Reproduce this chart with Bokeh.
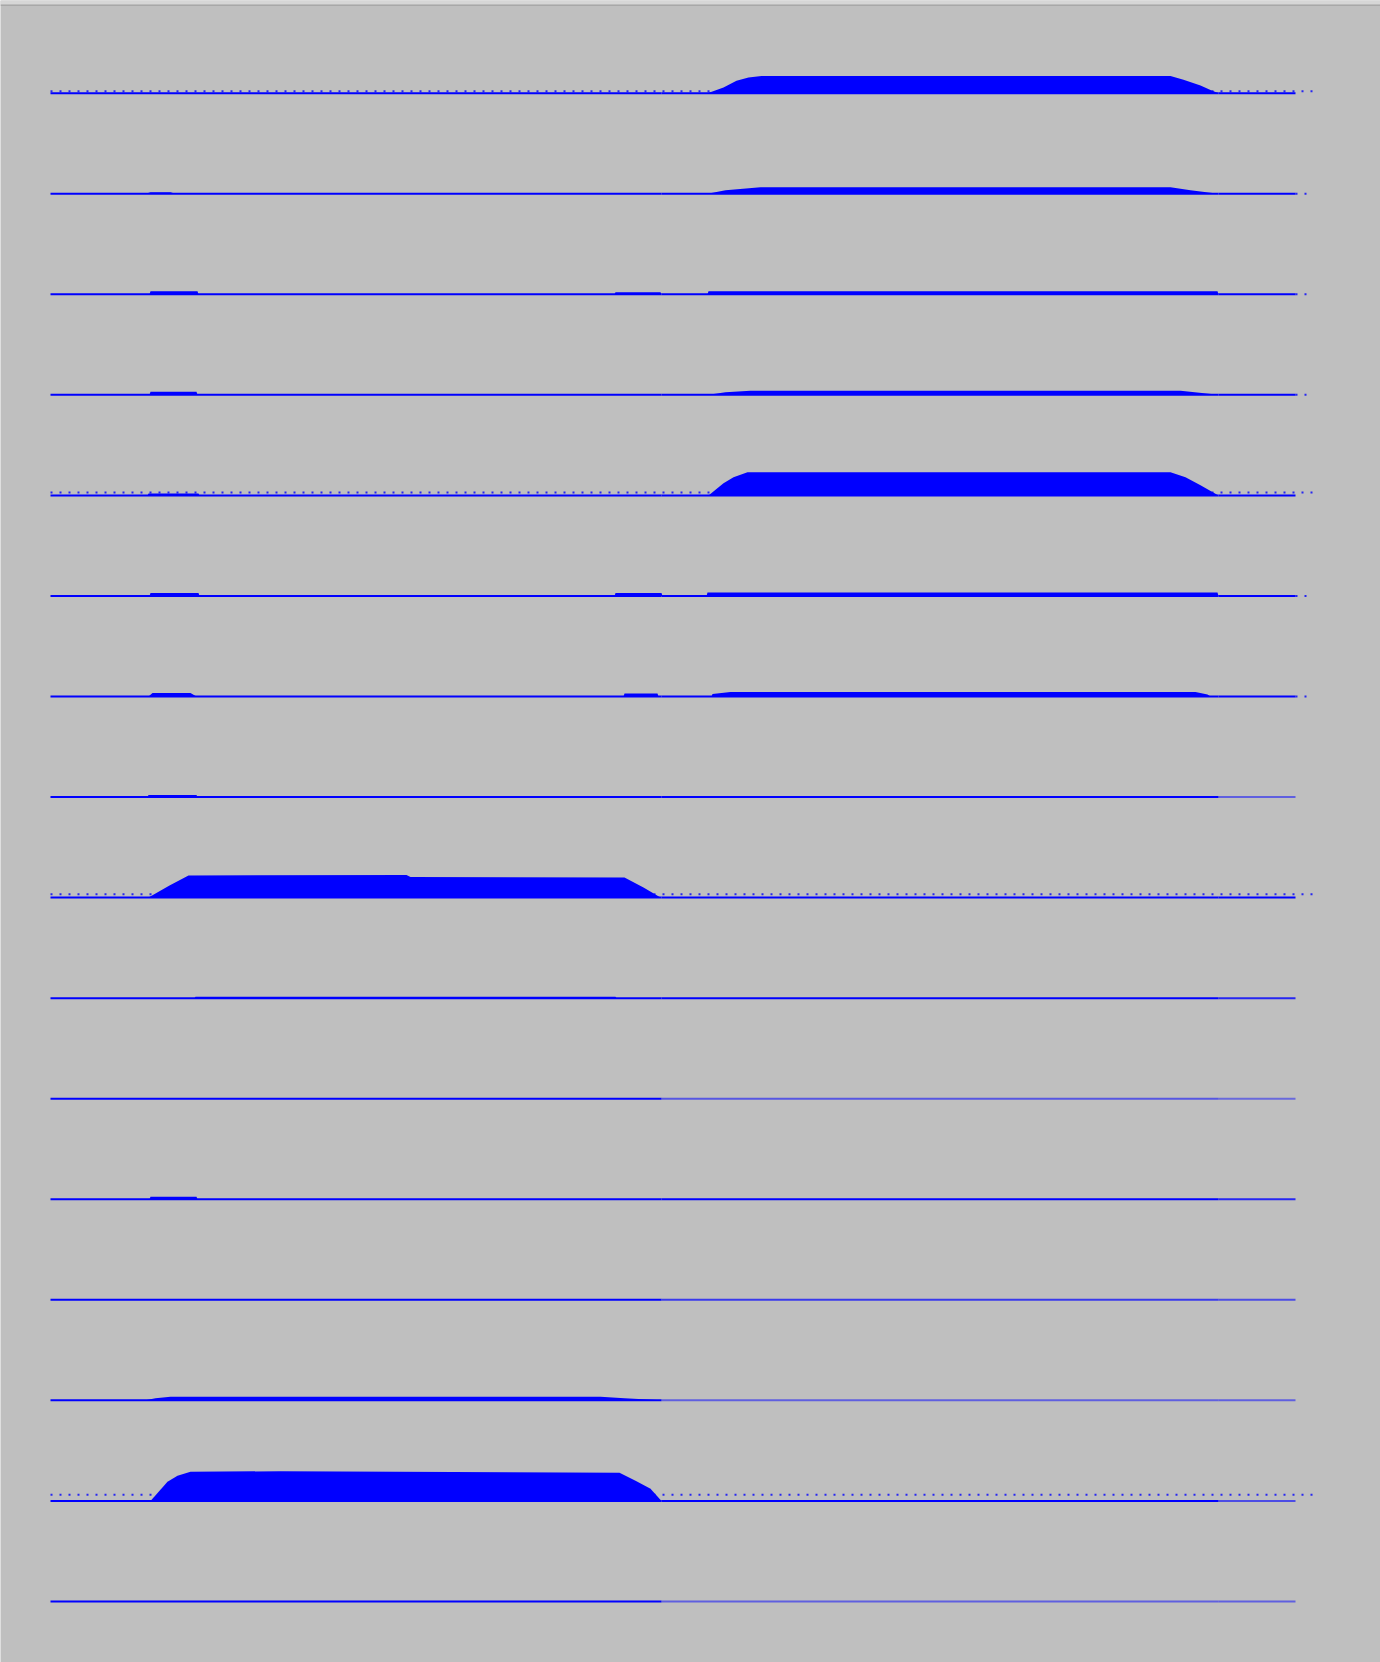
import numpy as np
from bokeh.plotting import figure
from bokeh.models import Range1d, Span, BoxAnnotation
from bokeh.embed import file_html
from bokeh.resources import INLINE

# ---- data: 16 stacked channels, time in seconds, amplitude envelope (µV-like units)
ROW_STEP = 100.0
T_START, T_END, T_DOTS_END = 0.0, 12.45, 12.63
SEG_EDGES = [0.0, 6.11, 11.68, 12.45]

ch01_t = [6.57, 6.73, 6.86, 6.98, 7.11, 11.20, 11.33, 11.50, 11.60, 11.68]
ch01_a = [0, 5.7, 12.3, 15.7, 17, 17, 13.3, 7.7, 3.3, 0]
ch02_t = [0.95, 1.00, 1.20, 1.25, 6.57, 6.75, 7.10, 11.20, 11.40, 11.68]
ch02_a = [0, 1.5, 1.5, 0, 0, 3.5, 6.5, 6.5, 3.5, 0]
ch03_t = [0.99, 1.00, 1.47, 1.48, 5.64, 5.65, 6.10, 6.11, 6.57, 6.58, 11.67, 11.68]
ch03_a = [0, 3, 3, 0, 0, 2, 2, 0, 0, 3, 3, 0]
ch04_t = [0.99, 1.00, 1.46, 1.47, 6.58, 6.75, 7.00, 11.30, 11.68]
ch04_a = [0, 3, 3, 0, 0, 2.5, 4, 4, 0]
ch05_t = [0.97, 0.98, 1.48, 1.49, 6.58, 6.73, 6.83, 6.97, 11.20, 11.35, 11.50, 11.68]
ch05_a = [0, 2, 2, 0, 0, 12, 18, 23, 23, 18, 10, 0]
ch06_t = [0.99, 1.00, 1.48, 1.49, 5.64, 5.65, 6.11, 6.12, 6.56, 6.57, 11.67, 11.68]
ch06_a = [0, 3, 3, 0, 0, 3, 3, 0, 0, 3.5, 3.5, 0]
ch07_t = [0.98, 1.02, 1.40, 1.46, 5.73, 5.74, 6.07, 6.08, 6.61, 6.62, 6.80, 11.45, 11.57, 11.60]
ch07_a = [0, 3.5, 3.5, 0, 0, 3, 3, 0, 0, 2.5, 4.5, 4.5, 2, 0]
ch08_t = [0.97, 0.98, 1.46, 1.47]
ch08_a = [0, 2, 2, 0]
ch09_t = [0.98, 1.19, 1.38, 3.56, 3.60, 5.74, 5.93, 6.10]
ch09_a = [0, 12, 22, 22.5, 20.5, 20, 10, 0]
ch10_t = [1.44, 1.45, 5.65, 5.66]
ch10_a = [0, 1.5, 1.5, 0]
ch11_t = [0.0, 0.01]
ch11_a = [0, 0]
ch12_t = [0.99, 1.00, 1.46, 1.47]
ch12_a = [0, 2.5, 2.5, 0]
ch13_t = [0.0, 0.01]
ch13_a = [0, 0]
ch14_t = [0.95, 1.05, 1.20, 5.50, 5.74, 6.11]
ch14_a = [0, 2, 3.5, 3.5, 2, 0]
ch15_t = [1.00, 1.17, 1.27, 1.40, 2.30, 5.69, 5.85, 6.00, 6.11]
ch15_a = [0, 19, 25, 29, 29.5, 28, 20, 12, 0]
ch16_t = [0.0, 0.01]
ch16_a = [0, 0]

rows_t = [ch01_t, ch02_t, ch03_t, ch04_t, ch05_t, ch06_t, ch07_t, ch08_t,
          ch09_t, ch10_t, ch11_t, ch12_t, ch13_t, ch14_t, ch15_t, ch16_t]
rows_a = [ch01_a, ch02_a, ch03_a, ch04_a, ch05_a, ch06_a, ch07_a, ch08_a,
          ch09_a, ch10_a, ch11_a, ch12_a, ch13_a, ch14_a, ch15_a, ch16_a]

# baseline strength per segment (block 1, block 2, tail)
base_alpha_1 = [1, 1, 1, 1, 1, 1, 1, 1, 1, 1, 1, 1, 1, 1, 1, 1]
base_alpha_2 = [1, 1, 1, 1, 1, 1, 1, 1, 1, 1, 0.55, 1, 0.7, 0.5, 1, 0.5]
base_alpha_3 = [1, 1, 1, 1, 1, 1, 1, 0.5, 1, 0.8, 0.45, 0.8, 0.6, 0.5, 0.6, 0.5]

# rows with a dotted trace above the baseline, and its offset
dot_rows = [0, 4, 8, 14]
dot_offsets = [2, 3, 3.3, 6]
tail_dot_rows = [1, 2, 3, 5, 6]

BLUE = "#0000ff"
BG = "#bfbfbf"
px_per_unit = 100.55 / ROW_STEP
y_end = 92.7 / px_per_unit
y_start = y_end - 1662 / px_per_unit

p = figure(width=1380, height=1662,
           x_range=Range1d(-0.5, 13.3), y_range=Range1d(y_start, y_end),
           output_backend="svg", toolbar_location=None,
           x_axis_location=None, y_axis_location=None,
           min_border_left=0, min_border_right=0, min_border_bottom=0, min_border_top=0,
           background_fill_color=BG, border_fill_color=BG,
           outline_line_color=None)
p.grid.visible = False

# light strip along the top edge of the page
p.add_layout(BoxAnnotation(top=y_end, bottom=y_end - 4.2 / px_per_unit,
                           fill_color="#d6d6d6", fill_alpha=1.0, line_color=None))
p.add_layout(Span(location=y_end - 4.8 / px_per_unit, dimension="width",
                  line_color="#a8a8a8", line_width=1.5))

for i in range(16):
    base = -i * ROW_STEP
    alphas = [base_alpha_1[i], base_alpha_2[i], base_alpha_3[i]]
    for j in range(3):
        p.line([SEG_EDGES[j], SEG_EDGES[j + 1]], [base, base],
               line_color=BLUE, line_width=2, line_alpha=alphas[j])
    t = np.array(rows_t[i], dtype=float)
    a = np.array(rows_a[i], dtype=float)
    p.varea(x=t, y1=np.full_like(t, base), y2=base + a, fill_color=BLUE, fill_alpha=1.0)

for r, off in zip(dot_rows, dot_offsets):
    base = -r * ROW_STEP
    p.line([T_START, T_DOTS_END], [base + off, base + off],
           line_color=BLUE, line_width=2, line_dash="2 7", line_alpha=0.8)

for r in tail_dot_rows:
    base = -r * ROW_STEP
    p.line([T_END, T_DOTS_END], [base, base],
           line_color=BLUE, line_width=2, line_dash="2 7", line_alpha=0.8)

open("out.html", "w").write(file_html(p, INLINE))
